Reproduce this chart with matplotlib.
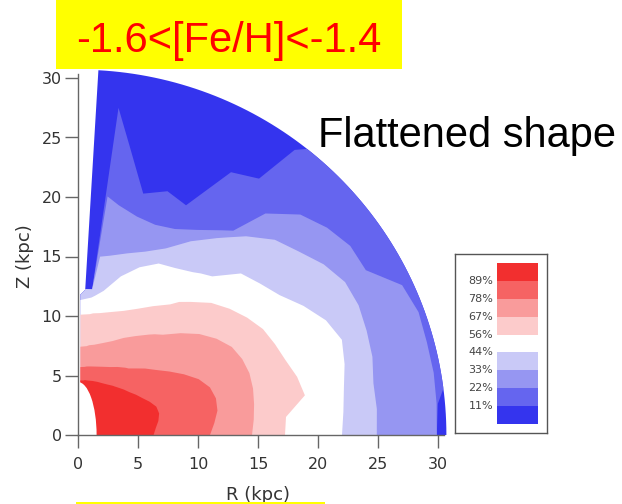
import numpy as np
import matplotlib
matplotlib.use("Agg")
import matplotlib.pyplot as plt
from matplotlib.patches import Polygon, Ellipse, Rectangle

# polar angle (deg, measured from the R axis) where each band edge was read
angles = [0, 5, 10, 15, 20, 25, 30, 35, 40, 45, 50, 53, 55, 60, 65, 70, 75, 80, 83, 84.5, 90]

# outer radius (kpc) of each fraction band at those angles
r_22 = [29.9, 30.1, 31.5, 31.5, 31.5, 31.5, 31.5, 31.5, 31.5, 31.5, 31.5, 30.0, 26.3, 25.5, 21.3, 21.8, 21.0, 24.7, 27.7, 12.3, 12.3]
r_33 = [29.9, 30.0, 30.1, 30.1, 30.2, 29.8, 27.7, 27.7, 27.1, 26.2, 24.3, 21.5, 21.0, 19.9, 19.1, 18.8, 19.0, 19.6, 20.2, 12.3, 12.3]
r_44 = [24.9, 25.0, 25.0, 25.4, 25.6, 25.8, 25.7, 25.0, 24.0, 23.2, 21.8, 20.8, 20.2, 18.8, 17.3, 16.4, 15.8, 15.3, 15.1, 12.3, 12.3]
r_50 = [22.0, 22.2, 22.5, 23.0, 23.4, 22.8, 21.7, 20.5, 19.8, 19.2, 17.4, 17.0, 16.7, 16.2, 15.9, 15.0, 13.8, 12.3, 11.8, 11.6, 11.3]
r_56 = [17.25, 17.4, 19.2, 18.9, 18.4, 18.1, 17.8, 17.2, 16.5, 15.7, 14.6, 14.0, 13.4, 12.5, 11.7, 11.1, 10.7, 10.4, 10.3, 10.2, 10.1]
r_67 = [14.5, 14.7, 14.9, 15.1, 15.2, 15.1, 14.8, 14.1, 13.2, 12.1, 11.0, 10.6, 10.3, 9.6, 9.0, 8.4, 8.0, 7.7, 7.6, 7.5, 7.4]
r_78 = [11.0, 11.4, 11.8, 11.9, 11.7, 11.1, 10.2, 9.3, 8.5, 7.9, 7.3, 7.0, 6.9, 6.6, 6.3, 6.1, 5.95, 5.85, 5.8, 5.75, 5.7]
r_89 = [6.3, 6.5, 6.8, 7.0, 6.95, 6.6, 6.2, 5.9, 5.6, 5.4, 5.2, 5.1, 5.05, 4.9, 4.8, 4.75, 4.7, 4.65, 4.65, 4.6, 4.6]

r_edge = 30.7                      # outer radius of the sampled region
edge_R = [1.7, 0.6, 0.2, 0.2]      # inner (left) edge of the sampled region
edge_Z = [30.65, 12.2, 11.8, 0.0]
hole_R, hole_Z = 1.55, 4.45        # empty region around the centre

legend_labels = ["11%", "22%", "33%", "44%", "56%", "67%", "78%", "89%"]

c11 = "#3434ee"
c22 = "#6565ef"
c33 = "#9696f2"
c44 = "#c9c9f7"
c50 = "#ffffff"
c56 = "#fccbcb"
c67 = "#f99b9b"
c78 = "#f66363"
c89 = "#f22f2f"

fig = plt.figure(figsize=(6.22, 5.04), dpi=100)
W, H = 622, 504

# yellow boxes from the slide
fig.add_artist(Rectangle((56 / W, 1 - 69 / H), 346 / W, 69 / H,
                         transform=fig.transFigure, color="#ffff00", lw=0))
fig.add_artist(Rectangle((76 / W, 0), 249 / W, 2 / H,
                         transform=fig.transFigure, color="#ffff00", lw=0))
fig.text(229 / W, 1 - 52 / H, "-1.6<[Fe/H]<-1.4", ha="center", va="baseline",
         color="#ff0000", fontsize=30, family="Liberation Sans")
fig.text(318 / W, 1 - 147 / H, "Flattened shape", ha="left", va="baseline",
         color="black", fontsize=30, family="Liberation Sans")

ax = fig.add_axes([78 / W, 1 - 435 / H, 31 * 12 / W, 31 * 11.9 / H])
ax.set_xlim(0, 31)
ax.set_ylim(0, 31)

# region covered by the map: outer arc + left edge
top = np.arctan2(edge_Z[0], edge_R[0])
arc = np.linspace(0, top, 80)
outline = np.column_stack([
    np.concatenate([r_edge * np.cos(arc), edge_R[1:]]),
    np.concatenate([r_edge * np.sin(arc), edge_Z[1:]]),
])
region = Polygon(outline, closed=True, color=c11, lw=0)
ax.add_patch(region)

th = np.radians(angles)
bands = [(r_22, c22), (r_33, c33), (r_44, c44), (r_50, c50),
         (r_56, c56), (r_67, c67), (r_78, c78), (r_89, c89)]
for r, c in bands:
    r = np.asarray(r)
    xs = np.concatenate([[0], r * np.cos(th), [0]])
    ys = np.concatenate([[0], r * np.sin(th), [0]])
    for p in ax.fill(xs, ys, color=c, lw=0):
        p.set_clip_path(region)

ax.add_patch(Ellipse((0, 0), 2 * hole_R, 2 * hole_Z, color="white", lw=0))

for s in ["top", "right"]:
    ax.spines[s].set_visible(False)
ax.spines["left"].set_bounds(0, 30.3)
ax.spines["bottom"].set_bounds(0, 30.5)
for s in ["left", "bottom"]:
    ax.spines[s].set_color("#666666")
    ax.spines[s].set_linewidth(1)
    ax.spines[s].set_zorder(3)

ax.set_xticks([0, 5, 10, 15, 20, 25, 30])
ax.set_yticks([0, 5, 10, 15, 20, 25, 30])
ax.tick_params(axis="x", direction="out", length=9, width=1, color="#666666",
               labelsize=11.5, labelcolor="#333333", pad=7)
ax.tick_params(axis="y", direction="out", length=9.5, width=1, color="#666666",
               labelsize=11.5, labelcolor="#333333", pad=2)
ax.set_xlabel("R (kpc)", fontsize=13, color="#333333", va="center")
ax.set_ylabel("Z (kpc)", fontsize=13, color="#333333", va="center")
ax.xaxis.set_label_coords(0.484, -0.163)
ax.yaxis.set_label_coords(-0.1425, 0.484)

# legend box
lg = fig.add_axes([455 / W, 1 - 433 / H, 92 / W, 179 / H])
lg.set_xlim(0, 1)
lg.set_ylim(0, 1)
lg.set_xticks([])
lg.set_yticks([])
for s in lg.spines.values():
    s.set_color("#555555")
    s.set_linewidth(1)

slot_colors = [c11, c22, c33, c44, c50, c56, c67, c78, c89]
y0, slot = 0.05, 0.1
lg.bar([0.68] * len(slot_colors), [slot] * len(slot_colors), width=0.445,
       bottom=[y0 + i * slot for i in range(len(slot_colors))],
       color=slot_colors, lw=0)
for k, lab in enumerate(legend_labels, start=1):
    lg.text(0.415, y0 + k * slot, lab, ha="right", va="center",
            fontsize=8, color="#444444")

fig.savefig("out.png", dpi=100)
